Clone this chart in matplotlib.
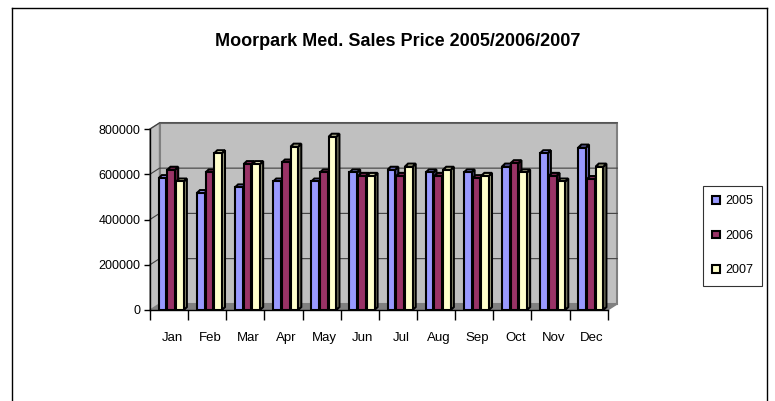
import matplotlib
matplotlib.use('Agg')
import matplotlib.pyplot as plt
from matplotlib.patches import Polygon, Patch
from matplotlib.lines import Line2D

plt.rcParams['font.family'] = ['Liberation Sans', 'DejaVu Sans']

months = ['Jan', 'Feb', 'Mar', 'Apr', 'May', 'Jun',
          'Jul', 'Aug', 'Sep', 'Oct', 'Nov', 'Dec']
years = ['2005', '2006', '2007']
price_2005 = [583000, 517000, 542000, 568000, 568000, 608000,
              620000, 608000, 608000, 634000, 693000, 718000]
price_2006 = [620000, 608000, 645000, 652000, 608000, 593000,
              593000, 593000, 583000, 649000, 593000, 579000]
price_2007 = [568000, 693000, 645000, 722000, 766000, 593000,
              634000, 620000, 593000, 608000, 568000, 634000]
y_ticks = [0, 200000, 400000, 600000, 800000]

front_colors = ['#9999FF', '#993366', '#FFFFCC']
side_colors = ['#6B6BB3', '#6B2447', '#A3A383']

W, H = 775, 401
fig = plt.figure(figsize=(W / 100, H / 100), dpi=100)

# plot area in pixels: x 150..607.7, y 129..310
ax = fig.add_axes([150 / W, 1 - 310 / H, 457.7 / W, 181 / H])
ax.set_xlim(-0.5, 11.5)
ax.set_ylim(0, 800000)
for s in ax.spines.values():
    s.set_visible(False)
ax.patch.set_visible(False)

# depth of the box (wall) and of the bars, in data units
wdx, wdy = 0.25, 27000
bdx, bdy = 0.08, 13000

# floor
ax.add_patch(Polygon([(-0.5, 0), (11.5, 0), (11.5 + wdx, wdy), (-0.5 + wdx, wdy)],
                     closed=True, facecolor='#808080', edgecolor='#808080',
                     zorder=1, clip_on=False))
# side wall and back wall
ax.add_patch(Polygon([(-0.5, 0), (-0.5 + wdx, wdy), (-0.5 + wdx, 800000 + wdy), (-0.5, 800000)],
                     closed=True, facecolor='#C0C0C0', edgecolor='#808080',
                     lw=1, zorder=1, clip_on=False))
ax.add_patch(Polygon([(-0.5 + wdx, wdy), (11.5 + wdx, wdy),
                      (11.5 + wdx, 800000 + wdy), (-0.5 + wdx, 800000 + wdy)],
                     closed=True, facecolor='#C0C0C0', edgecolor='#808080',
                     lw=1.5, zorder=1, clip_on=False))
# gridlines on the walls
for v in y_ticks[1:]:
    ax.plot([-0.5, -0.5 + wdx, 11.5 + wdx], [v, v + wdy, v + wdy],
            color='#404040', lw=0.8, zorder=2, clip_on=False)

# bars
series = [price_2005, price_2006, price_2007]
pitch, bw, start = 0.228, 0.2, 0.23
for j, vals in enumerate(series):
    lefts = [i - 0.5 + start + j * pitch for i in range(len(months))]
    z = 3 + j
    ax.bar(lefts, vals, width=bw, align='edge', color=front_colors[j],
           edgecolor='black', lw=1.5, zorder=z + 0.5)
    for x0, v in zip(lefts, vals):
        x1 = x0 + bw
        ax.add_patch(Polygon([(x1, 0), (x1 + bdx, bdy), (x1 + bdx, v + bdy), (x1, v)],
                             closed=True, facecolor=side_colors[j], edgecolor='black',
                             lw=1.5, zorder=z, clip_on=False))
        ax.add_patch(Polygon([(x0, v), (x1, v), (x1 + bdx, v + bdy), (x0 + bdx, v + bdy)],
                             closed=True, facecolor=front_colors[j], edgecolor='black',
                             lw=1.5, zorder=z, clip_on=False))

# axes lines and ticks
ax.plot([-0.5, -0.5], [0, 800000], color='black', lw=1, zorder=10, clip_on=False)
ax.plot([-0.5, 11.5], [0, 0], color='black', lw=1, zorder=10, clip_on=False)
ax.set_yticks(y_ticks)
ax.set_yticklabels([str(v) for v in y_ticks], fontsize=9)
ax.tick_params(axis='y', length=4, width=1, pad=3)
ax.set_xticks([i + 0.08 for i in range(len(months))])
ax.set_xticklabels(months, fontsize=9.5)
ax.tick_params(axis='x', length=0, pad=16)
ax.set_xticks([i - 0.5 for i in range(len(months) + 1)], minor=True)
ax.tick_params(axis='x', which='minor', length=7, width=1)

fig.text(398 / W, 1 - 42 / H, 'Moorpark Med. Sales Price 2005/2006/2007',
         ha='center', va='center', fontsize=13, fontweight='bold')

handles = [Patch(facecolor=c, edgecolor='black', lw=1.5) for c in front_colors]
leg = fig.legend(handles, years, loc='upper left', bbox_to_anchor=(703 / W, 1 - 186 / H),
                 fontsize=9, frameon=True, fancybox=False, handlelength=0.6,
                 handleheight=0.6, handletextpad=0.4, labelspacing=1.8,
                 borderpad=0.75, borderaxespad=0)
leg.get_frame().set_edgecolor('black')
leg.get_frame().set_linewidth(0.8)

# chart area border (bottom edge outside the picture)
for xs, ys in [([12, 12], [8, H]), ([12, 767], [8, 8]), ([767, 767], [8, H])]:
    fig.add_artist(Line2D([x / W for x in xs], [1 - y / H for y in ys],
                          transform=fig.transFigure, color='black', lw=1))

fig.savefig('out.png', dpi=100)
